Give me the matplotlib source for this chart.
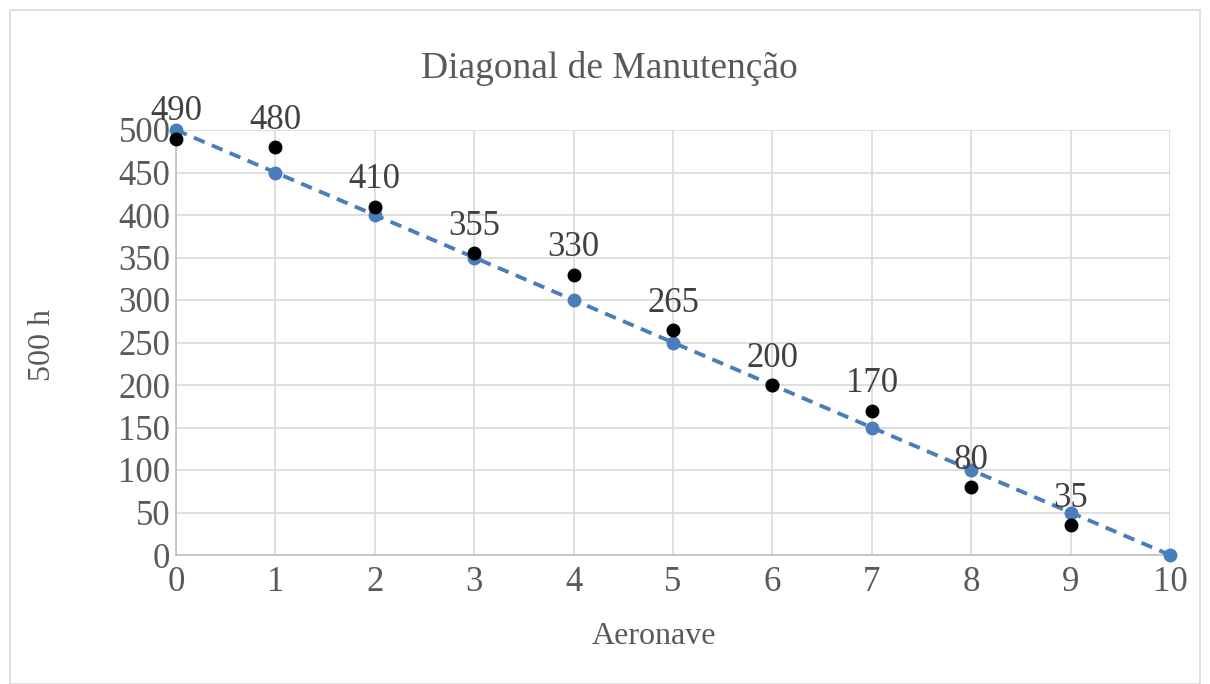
import matplotlib
matplotlib.use("Agg")
import matplotlib.pyplot as plt
from matplotlib.patches import Rectangle

plt.rcParams['font.family'] = ['Liberation Serif', 'DejaVu Serif']

aeronave_real = [0, 1, 2, 3, 4, 5, 6, 7, 8, 9]
horas_real = [490, 480, 410, 355, 330, 265, 200, 170, 80, 35]
aeronave_ideal = [0, 1, 2, 3, 4, 5, 6, 7, 8, 9, 10]
horas_ideal = [500, 450, 400, 350, 300, 250, 200, 150, 100, 50, 0]
x_ticks = list(range(0, 11))
y_ticks = list(range(0, 501, 50))

text_color = '#595959'
blue = '#4a7ebb'
grid_color = '#d9d9d9'

fig = plt.figure(figsize=(12.10, 6.84), dpi=100)
ax = fig.add_axes([176/1210, 1-555/684, (1170-176)/1210, (555-130)/684])

fig.patches.append(Rectangle((10/1210, 0), 1190/1210, 674/684, transform=fig.transFigure,
                             fill=False, edgecolor='#d9d9d9', linewidth=1.2))

ax.plot(aeronave_ideal, horas_ideal, linestyle=(0, (3, 2)), color=blue, linewidth=2.8,
        marker='o', markersize=9, zorder=3, clip_on=False)
ax.plot(aeronave_real, horas_real, linestyle='none', color='black', marker='o',
        markersize=9, zorder=4, clip_on=False)
for x, y in zip(aeronave_real, horas_real):
    ax.annotate(str(y), (x, y), xytext=(0, 13), textcoords='offset points',
                ha='center', va='baseline', fontsize=25, color='#404040', zorder=5)

ax.set_xlim(0, 10)
ax.set_ylim(0, 500)
ax.set_xticks(x_ticks)
ax.set_yticks(y_ticks)
ax.grid(True, color=grid_color, linewidth=1.2)
ax.set_axisbelow(True)
for s in ['top', 'right']:
    ax.spines[s].set_visible(False)
for s in ['left', 'bottom']:
    ax.spines[s].set_color('#bfbfbf')
    ax.spines[s].set_linewidth(1.2)
ax.tick_params(length=0, labelsize=25, labelcolor=text_color)
ax.tick_params(axis='x', pad=8)
ax.tick_params(axis='y', pad=4)

fig.text(654/1210, 1-637/684, 'Aeronave', ha='center', va='center',
         fontsize=23, color=text_color)
fig.text(42/1210, 1-345/684, '500 h', ha='center', va='center', rotation=90,
         fontsize=23, color=text_color)
fig.text(609/1210, 1-68/684, 'Diagonal de Manutenção', ha='center', va='center',
         fontsize=27, color=text_color)

fig.savefig('out.png', dpi=100)
